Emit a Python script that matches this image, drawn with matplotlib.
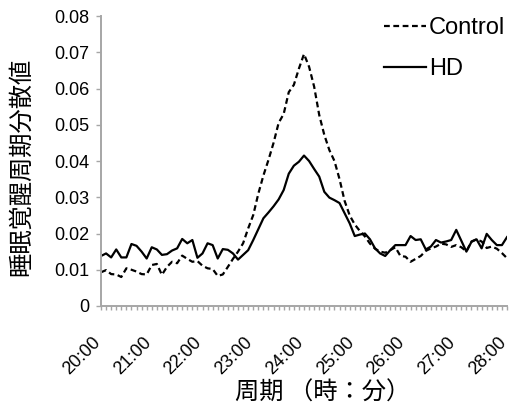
import matplotlib
matplotlib.use("Agg")
import matplotlib.pyplot as plt
import numpy as np

# 6分刻みのビン (20:00 - 28:00, 81点)
control = [
    0.0093, 0.0099, 0.0088, 0.0087, 0.0080, 0.0104, 0.0100, 0.0095, 0.0088, 0.0087,
    0.0113, 0.0116, 0.0086, 0.0108, 0.0122, 0.0118, 0.0139, 0.0130, 0.0122, 0.0124,
    0.0111, 0.0104, 0.0102, 0.0083, 0.0087, 0.0108, 0.0130, 0.0150, 0.0173, 0.0214,
    0.0251, 0.0310, 0.0360, 0.0403, 0.0450, 0.0505, 0.0530, 0.0590, 0.0610, 0.0655,
    0.0695, 0.0660, 0.0605, 0.0527, 0.0472, 0.0430, 0.0400, 0.0350, 0.0290, 0.0250,
    0.0225, 0.0207, 0.0192, 0.0172, 0.0158, 0.0150, 0.0147, 0.0154, 0.0162, 0.0138,
    0.0136, 0.0122, 0.0130, 0.0138, 0.0152, 0.0159, 0.0164, 0.0172, 0.0170, 0.0163,
    0.0168, 0.0162, 0.0151, 0.0178, 0.0184, 0.0178, 0.0160, 0.0164, 0.0158, 0.0146,
    0.0132,
]
hd = [
    0.0138, 0.0145, 0.0134, 0.0156, 0.0134, 0.0134, 0.0171, 0.0166, 0.0150, 0.0131,
    0.0162, 0.0156, 0.0141, 0.0143, 0.0153, 0.0159, 0.0185, 0.0173, 0.0182, 0.0133,
    0.0145, 0.0173, 0.0168, 0.0131, 0.0157, 0.0155, 0.0145, 0.0128, 0.0141, 0.0154,
    0.0182, 0.0212, 0.0242, 0.0258, 0.0275, 0.0294, 0.0320, 0.0365, 0.0387, 0.0398,
    0.0415, 0.0400, 0.0378, 0.0357, 0.0315, 0.0299, 0.0292, 0.0284, 0.0256, 0.0228,
    0.0193, 0.0197, 0.0200, 0.0184, 0.0159, 0.0145, 0.0138, 0.0154, 0.0168, 0.0168,
    0.0168, 0.0193, 0.0182, 0.0184, 0.0156, 0.0164, 0.0182, 0.0175, 0.0178, 0.0182,
    0.0210, 0.0180, 0.0150, 0.0177, 0.0184, 0.0159, 0.0199, 0.0182, 0.0168, 0.0168,
    0.0190,
]
hour_labels = ["20:00", "21:00", "22:00", "23:00", "24:00", "25:00", "26:00", "27:00", "28:00"]
y_values = [0, 0.01, 0.02, 0.03, 0.04, 0.05, 0.06, 0.07, 0.08]
y_labels = ["0", "0.01", "0.02", "0.03", "0.04", "0.05", "0.06", "0.07", "0.08"]

BIN_PER_HOUR = 10
GRAY = "#a6a6a6"
JP = ["Noto Sans CJK JP", "DejaVu Sans"]

plt.rcParams["font.family"] = ["Liberation Sans", "DejaVu Sans"]

fig = plt.figure(figsize=(5.11, 4.11), dpi=100)
ax = fig.add_axes([101 / 511, 1 - 306 / 411, 406 / 511, 290 / 411])

x = np.arange(len(control))
ax.plot(x, control, color="black", lw=1.6, linestyle=(0, (2.6, 1.6)), label="Control")
ax.plot(x, hd, color="black", lw=1.6, label="HD")

ax.set_xlim(0, len(control) - 1)
ax.set_ylim(0, 0.08)

for s in ["top", "right"]:
    ax.spines[s].set_visible(False)
for s in ["left", "bottom"]:
    ax.spines[s].set_color(GRAY)
    ax.spines[s].set_linewidth(1.4)

ax.set_yticks(y_values, labels=y_labels)
ax.tick_params(axis="y", length=3.6, width=1, color=GRAY, labelsize=13, pad=5)

major = np.arange(len(hour_labels)) * BIN_PER_HOUR
ax.set_xticks(major, labels=hour_labels)
ax.set_xticks(x, minor=True)
ax.tick_params(axis="x", which="both", length=3, width=1, color=GRAY, labelsize=13, pad=24)

# 斜めラベルはベースライン右端を目盛りに合わせる
for lbl in ax.get_xticklabels():
    lbl.set_rotation(45)
    lbl.set_ha("right")
    lbl.set_va("baseline")
    lbl.set_rotation_mode("anchor")

fig.text(323 / 511, 1 - 393 / 411, "周期 （時：分）", family=JP, fontsize=17.5,
         ha="center", va="center")
fig.text(21 / 511, 1 - 167 / 411, "睡眠覚醒周期分散値", family=JP, fontsize=17.5,
         ha="center", va="center", rotation=90)

ax.legend(loc="upper right", bbox_to_anchor=(505 / 511, 1 - 17 / 411),
          bbox_transform=fig.transFigure, frameon=False, fontsize=17,
          handlelength=1.8, handletextpad=0.1, labelspacing=0.8,
          borderpad=0, borderaxespad=0)

fig.savefig("out.png", dpi=100)
